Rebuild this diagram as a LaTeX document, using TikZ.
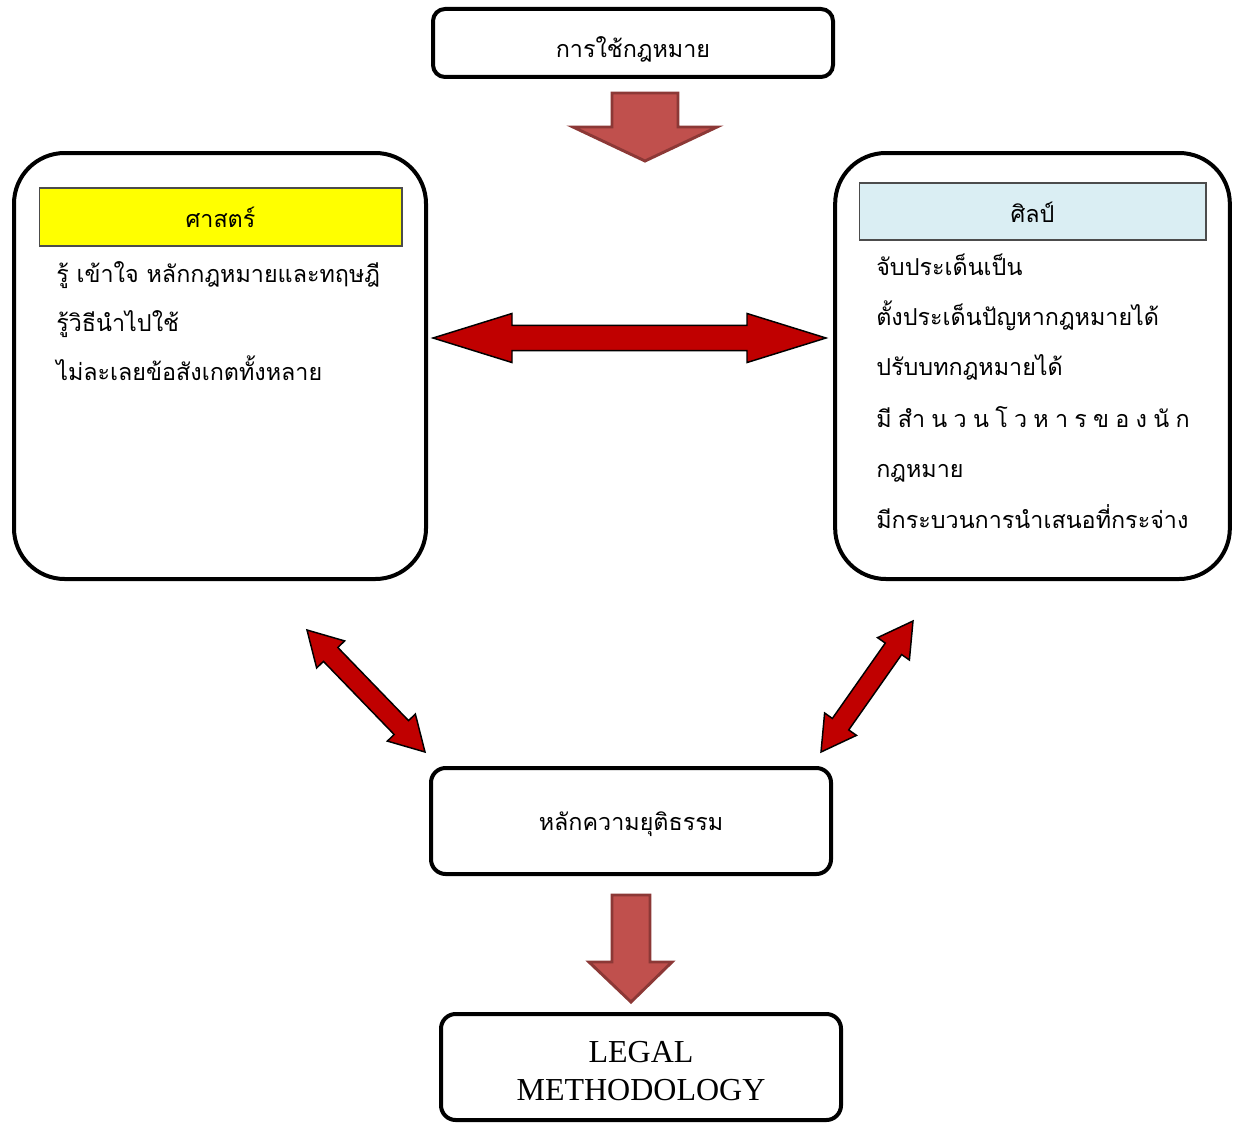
\documentclass[tikz,border=0pt]{standalone}
\usepackage{fontspec}
\setmainfont{Liberation Serif}
\newfontfamily\thai[Script=Thai]{Loma}
\usetikzlibrary{calc}
\definecolor{arrred}{HTML}{C00000}
\definecolor{blockfill}{HTML}{C0504D}
\definecolor{blockline}{HTML}{8C3836}
\definecolor{hdrblue}{HTML}{DAEEF3}
\definecolor{hdryellow}{HTML}{FFFF00}
\tikzset{
  box/.style={draw=black, line width=3pt, fill=white, inner sep=0pt},
  hdr/.style={draw=black!70, line width=1pt, inner sep=0pt},
  redarr/.style={fill=arrred, draw=black, line width=1.1pt, line join=miter},
  blockarr/.style={fill=blockfill, draw=blockline, line width=2.2pt, line join=miter},
  thtxt/.style={font=\thai\fontsize{17.5}{21}\selectfont, inner sep=0pt},
  lines/.style={thtxt, anchor=base west},
}
\newcommand\dblarrow[6]{%
  \coordinate (#1h1) at ($(#2)!#4!(#3)$);
  \coordinate (#1h2) at ($(#3)!#4!(#2)$);
  \draw[redarr] (#2) -- ($(#1h1)!#5!90:(#3)$) -- ($(#1h1)!#6!90:(#3)$)
    -- ($(#1h2)!#6!-90:(#2)$) -- ($(#1h2)!#5!-90:(#2)$) -- (#3)
    -- ($(#1h2)!#5!90:(#2)$) -- ($(#1h2)!#6!90:(#2)$)
    -- ($(#1h1)!#6!-90:(#3)$) -- ($(#1h1)!#5!-90:(#3)$) -- cycle;
}
\begin{document}
\begin{tikzpicture}[x=0.75pt,y=-0.75pt]
\useasboundingbox (0,0) rectangle (1238,1124);
% boxes
\node[box, rounded corners=9pt, minimum width=300pt, minimum height=51pt] (top) at (633,43) {};
\node[thtxt, anchor=base] (toptxt) at (633,58) {การใช้กฎหมาย};

\node[box, rounded corners=38pt, minimum width=309pt, minimum height=319.5pt] (left) at (220,366) {};
\node[hdr, fill=hdryellow, minimum width=272pt, minimum height=43.5pt] (lhdr) at (220.5,217) {};
\node[thtxt, anchor=base] (lhdrtxt) at (220.5,227) {ศาสตร์};
\node[lines] (l1) at (56,282) {รู้ เข้าใจ หลักกฎหมายและทฤษฎี};
\node[lines] (l2) at (56,331) {รู้วิธีนำไปใช้};
\node[lines] (l3) at (56,380) {ไม่ละเลยข้อสังเกตทั้งหลาย};

\node[box, rounded corners=38pt, minimum width=296pt, minimum height=319.5pt] (right) at (1032.5,366) {};
\node[hdr, fill=hdrblue, minimum width=260pt, minimum height=42.75pt] (rhdr) at (1032.5,211.5) {};
\node[thtxt, anchor=base] (rhdrtxt) at (1032.5,222) {ศิลป์};
\node[lines] (r1) at (876,275) {จับประเด็นเป็น};
\node[lines] (r2) at (876,325) {ตั้งประเด็นปัญหากฎหมายได้};
\node[lines] (r3) at (876,375) {ปรับบทกฎหมายได้};
\node[lines] (r4) at (876,427) {\makebox[235pt][s]{มี\ สำ\ น\ ว\ น\ โ\ ว\ ห\ า\ ร\ ข\ อ\ ง\ นั\ ก}};
\node[lines] (r5) at (876,477) {กฎหมาย};
\node[lines] (r6) at (876,528) {มีกระบวนการนำเสนอที่กระจ่าง};

\node[box, rounded corners=11pt, minimum width=300pt, minimum height=79.5pt] (mid) at (631,821) {};
\node[thtxt, anchor=base] (midtxt) at (631,830) {หลักความยุติธรรม};

\node[box, rounded corners=11pt, minimum width=300pt, minimum height=79.5pt] (bot) at (641,1067) {};
\node[align=center, font=\fontsize{24}{28.5}\selectfont, inner sep=0pt, anchor=base] (bottxt) at (641,1100) {LEGAL\\METHODOLOGY};

% block arrows
\draw[blockarr] (612,93) -- (678,93) -- (678,127) -- (717,127) -- (645,161) -- (573,127) -- (612,127) -- cycle;
\draw[blockarr] (612,895) -- (650,895) -- (650,962) -- (672,962) -- (631,1002) -- (589,962) -- (612,962) -- cycle;

% double arrows
\coordinate (hA) at (433,338);
\coordinate (hB) at (826,338);
\dblarrow{h}{hA}{hB}{59.25pt}{18.4pt}{9.4pt}
\coordinate (dlA) at (307,630);
\coordinate (dlB) at (425,752);
\dblarrow{dl}{dlA}{dlB}{25.5pt}{14.6pt}{7.5pt}
\coordinate (drA) at (913,621);
\coordinate (drB) at (821,752);
\dblarrow{dr}{drA}{drB}{25.5pt}{14.6pt}{7.5pt}
\end{tikzpicture}
\end{document}
